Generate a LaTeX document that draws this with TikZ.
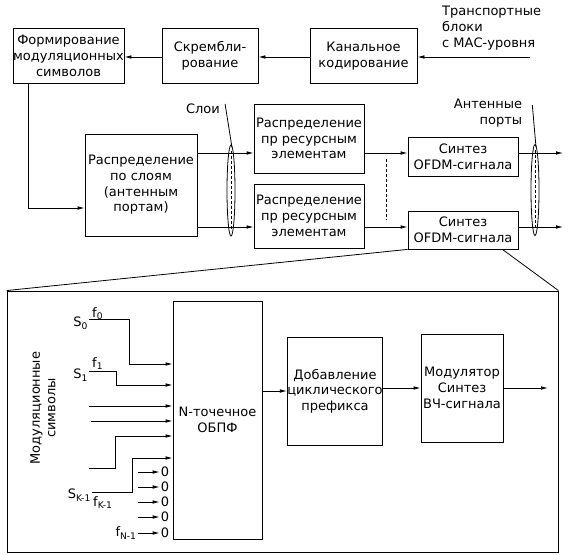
\documentclass[tikz,border=0pt]{standalone}
\usepackage{fontspec}
\setmainfont{DejaVu Sans}
\usetikzlibrary{arrows.meta,calc}

\begin{document}
\begin{tikzpicture}[x=1pt,y=-1pt,
    font=\fontsize{13}{15.7}\selectfont,
    block/.style={draw,line width=0.8pt,align=center,inner sep=0pt},
    link/.style={line width=0.8pt,-{Latex[length=7pt,width=3.6pt]}},
    wire/.style={line width=0.8pt},
    dashline/.style={line width=0.7pt,dash pattern=on 3pt off 2pt},
    lbl/.style={inner sep=1pt}]
    \useasboundingbox (0,0) rectangle (570,554);

    \node[block,minimum width=111,minimum height=55] (form) at (68.5,56) {Формирование\\модуляционных\\символов};
    \node[block,minimum width=96,minimum height=55] (scr) at (210,56) {Скрембли-\\рование};
    \node[block,minimum width=107,minimum height=55] (chan) at (363.5,56) {Канальное\\кодирование};
    \node[lbl,anchor=north west,align=left] (src) at (441,5) {Транспортные\\блоки\\с МАС-уровня};
    \coordinate (srcend) at (530,57);
    \draw[link] (srcend) -- (chan.east |- srcend);
    \draw[link] (chan.west |- srcend) -- (scr.east |- srcend);
    \draw[link] (scr.west |- srcend) -- (form.east |- srcend);

    \node[block,minimum width=112,minimum height=102] (lay) at (141,185) {Распределение\\по слоям\\(антенным\\портам)};
    \coordinate (bend) at (28,208);
    \draw[link] (form.south -| bend) -- (bend) -- (lay.west |- bend);

    \node[block,minimum width=110,minimum height=69] (re1) at (309,138.5) {Распределение\\пр ресурсным\\элементам};
    \node[block,minimum width=110,minimum height=64] (re2) at (309,216) {Распределение\\пр ресурсным\\элементам};
    \node[block,minimum width=110,minimum height=39] (ofdm1) at (463,156.5) {Синтез\\OFDM-сигнала};
    \node[block,minimum width=110,minimum height=38] (ofdm2) at (463,230) {Синтез\\OFDM-сигнала};

    \coordinate (row1) at (0,153);
    \coordinate (row2) at (0,227);
    \coordinate (ant1) at (563,153);
    \coordinate (ant2) at (563,227);
    \draw[link] (lay.east |- row1) -- (re1.west |- row1);
    \draw[link] (lay.east |- row2) -- (re2.west |- row2);
    \draw[link] (re1.east |- row1) -- (ofdm1.west |- row1);
    \draw[link] (re2.east |- row2) -- (ofdm2.west |- row2);
    \draw[link] (ofdm1.east |- ant1) -- (ant1);
    \draw[link] (ofdm2.east |- ant2) -- (ant2);
    \draw[dashline] (386,159) -- (386,220);

    \coordinate (lyr) at (231,190.5);
    \coordinate (ant) at (535,190);
    \draw[wire] (lyr) ellipse [x radius=4pt,y radius=45.5pt];
    \draw[dashline] ($(lyr)+(0,-40)$) -- ($(lyr)+(0,40)$);
    \draw[wire] (ant) ellipse [x radius=4pt,y radius=45.5pt];
    \draw[dashline] ($(ant)+(0,-40)$) -- ($(ant)+(0,40)$);
    \node[lbl] (lyrlbl) at (203,109) {Слои};
    \draw[wire] ($(lyrlbl.east)+(4,-5)$) -- ($(lyr)+(1,-43)$);
    \node[lbl,align=right] (antlbl) at (488,113) {Антенные\\порты};
    \draw[wire] ($(antlbl.east)+(9,-8)$) -- ($(ant)+(1,-43)$);

    \node[draw,line width=0.9pt,minimum width=551,minimum height=261,inner sep=0pt] (detail) at (282.5,421.5) {};
    \draw[wire] (ofdm2.south west) -- (detail.north west);
    \draw[wire] ($(ofdm2.south east)+(-16,0)$) -- (detail.north east);

    \node[block,minimum width=89,minimum height=238] (fft) at (217.5,420) {N-точечное\\ОБПФ};
    \node[block,minimum width=94,minimum height=108] (cp) at (335,391) {Добавление\\циклического\\префикса};
    \node[block,minimum width=82,minimum height=108] (mod) at (462,388) {Модулятор\\Синтез\\ВЧ-сигнала};
    \coordinate (rfout) at (548,388);
    \draw[link] (fft.east |- cp) -- (cp.west);
    \draw[link] (cp.east |- mod) -- (mod.west);
    \draw[link] (mod.east) -- (rfout);

    \node[rotate=90,align=center] (symlbl) at (43,408) {Модуляционные\\символы};
    \coordinate (s0) at (89,319);
    \coordinate (s1) at (89,371);
    \coordinate (s2) at (89,406);
    \coordinate (s3) at (91,421);
    \coordinate (s4) at (89,468);
    \coordinate (sk) at (92,492);
    \draw[link] (s0) -- ++(40,0) |- (fft.west |- 0,364);
    \draw[link] (s1) -- ++(27,0) |- (fft.west |- 0,385);
    \draw[link] (s2) -- (fft.west |- s2);
    \draw[link] (s3) -- (fft.west |- s3);
    \draw[link] (s4) -- ++(26,0) |- (fft.west |- 0,436);
    \draw[link] (sk) -- ++(40,0) |- (fft.west |- 0,458);
    \node[lbl,anchor=east] (s0lbl) at ($(s0)+(0,4)$) {S\textsubscript{0}};
    \node[lbl,anchor=base west] (f0lbl) at ($(s0)+(2,-2)$) {f\textsubscript{0}};
    \node[lbl,anchor=east] (s1lbl) at ($(s1)+(0,4)$) {S\textsubscript{1}};
    \node[lbl,anchor=base west] (f1lbl) at ($(s1)+(2,-4)$) {f\textsubscript{1}};
    \node[lbl,anchor=east] (sklbl) at ($(sk)+(0,3)$) {S\textsubscript{K-1}};
    \node[lbl,anchor=north west] (fklbl) at ($(sk)+(0,3)$) {f\textsubscript{K-1}};

    \node[lbl] (z1) at (165,472) {0};
    \node[lbl] (z2) at (165,487) {0};
    \node[lbl] (z3) at (165,502) {0};
    \node[lbl] (z4) at (165,517) {0};
    \node[lbl] (z5) at (165,533) {0};
    \draw[link] ([xshift=-22pt]z1.west) -- (z1.west);
    \draw[link] ([xshift=-22pt]z2.west) -- (z2.west);
    \draw[link] ([xshift=-22pt]z3.west) -- (z3.west);
    \draw[link] ([xshift=-22pt]z4.west) -- (z4.west);
    \draw[link] ([xshift=-22pt]z5.west) -- (z5.west);
    \node[lbl,anchor=east] (fnlbl) at ([xshift=-22pt]z5.west) {f\textsubscript{N-1}};
\end{tikzpicture}
\end{document}
